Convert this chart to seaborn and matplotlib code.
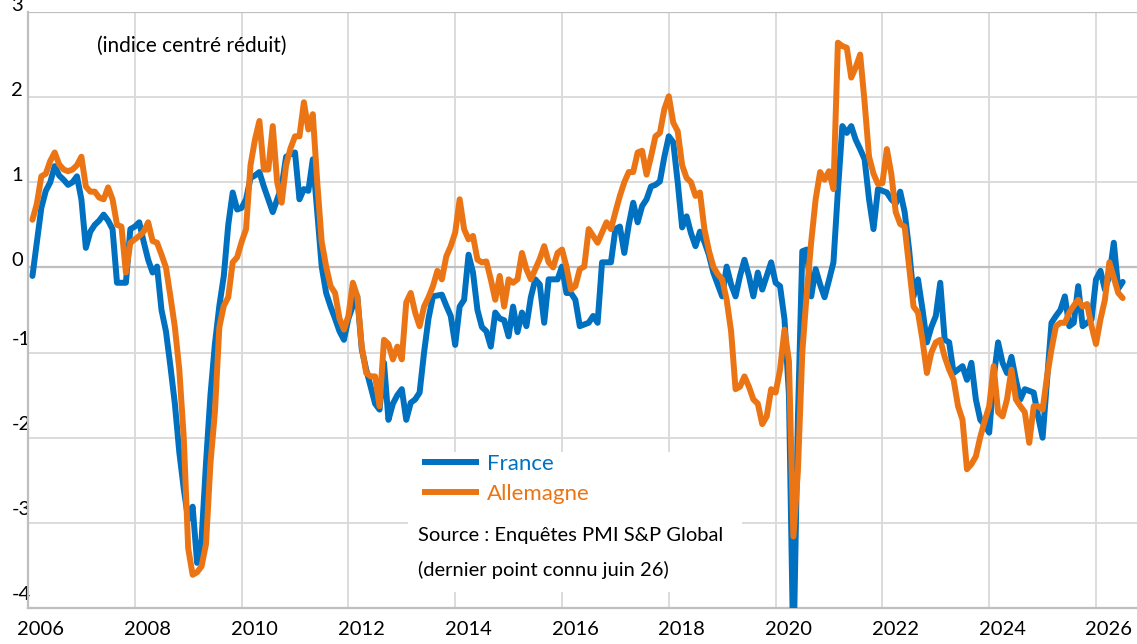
import numpy as np
import pandas as pd
import matplotlib
matplotlib.use("Agg")
import matplotlib.pyplot as plt
import matplotlib.transforms as mtransforms
from matplotlib.patches import Rectangle
import seaborn as sns

# ---------------- data (monthly, Jan 2006 -> Jun 2026) ----------------
start_month = "2006-01"
n_months = 246

france = [
    # 2006
    -0.10, 0.30, 0.70, 0.90, 1.00, 1.19, 1.08, 1.03, 0.97, 1.00, 1.07, 0.80,
    # 2007
    0.23, 0.42, 0.50, 0.55, 0.62, 0.55, 0.45, -0.18, -0.18, -0.18, 0.45, 0.48,
    # 2008
    0.53, 0.30, 0.09, -0.06, 0.01, -0.50, -0.75, -1.16, -1.60, -2.17, -2.60, -2.96,
    # 2009
    -2.81, -3.47, -3.20, -2.30, -1.50, -0.90, -0.45, -0.10, 0.50, 0.88, 0.68, 0.70,
    # 2010
    0.80, 1.05, 1.08, 1.12, 0.95, 0.80, 0.65, 0.80, 0.95, 1.30, 1.33, 1.35,
    # 2011
    0.80, 0.92, 0.90, 1.27, 0.65, 0.01, -0.30, -0.46, -0.60, -0.75, -0.85, -0.60,
    # 2012
    -0.45, -0.34, -0.96, -1.20, -1.40, -1.60, -1.67, -1.12, -1.79, -1.60, -1.50, -1.43,
    # 2013
    -1.79, -1.59, -1.55, -1.47, -1.00, -0.60, -0.34, -0.33, -0.32, -0.45, -0.57, -0.91,
    # 2014
    -0.46, -0.38, 0.15, -0.06, -0.50, -0.70, -0.75, -0.93, -0.53, -0.60, -0.62, -0.81,
    # 2015
    -0.46, -0.76, -0.53, -0.69, -0.35, -0.14, -0.20, -0.65, -0.14, -0.14, -0.14, 0.01,
    # 2016
    -0.30, -0.30, -0.38, -0.69, -0.67, -0.65, -0.57, -0.65, 0.06, 0.06, 0.06, 0.45,
    # 2017
    0.48, 0.17, 0.50, 0.76, 0.53, 0.72, 0.80, 0.95, 0.97, 1.01, 1.30, 1.54,
    # 2018
    1.47, 1.00, 0.47, 0.60, 0.40, 0.25, 0.42, 0.30, 0.15, -0.06, -0.20, -0.34,
    # 2019
    0.01, -0.20, -0.34, -0.10, 0.09, -0.10, -0.34, -0.06, -0.26, -0.10, 0.06, -0.18,
    # 2020
    -0.22, -0.61, -1.50, -4.60, -1.80, 0.19, 0.21, -0.34, -0.02, -0.20, -0.35, -0.15,
    # 2021
    0.06, 0.90, 1.66, 1.58, 1.66, 1.50, 1.39, 1.27, 0.80, 0.45, 0.92, 0.90,
    # 2022
    0.88, 0.80, 0.75, 0.89, 0.65, 0.21, -0.34, -0.14, -0.49, -0.88, -0.70, -0.57,
    # 2023
    -0.18, -0.85, -0.88, -1.24, -1.20, -1.16, -1.32, -1.12, -1.55, -1.79, -1.85, -1.94,
    # 2024
    -1.30, -0.88, -1.12, -1.24, -1.05, -1.32, -1.55, -1.43, -1.45, -1.47, -1.75, -2.00,
    # 2025
    -1.32, -0.65, -0.57, -0.50, -0.34, -0.69, -0.65, -0.22, -0.69, -0.65, -0.61, -0.14,
    # 2026
    -0.04, -0.26, -0.10, 0.29, -0.25, -0.17,
]

allemagne = [
    # 2006
    0.56, 0.75, 1.07, 1.10, 1.25, 1.35, 1.21, 1.15, 1.13, 1.15, 1.20, 1.30,
    # 2007
    0.95, 0.89, 0.89, 0.82, 0.80, 0.94, 0.80, 0.50, 0.48, -0.06, 0.29, 0.33,
    # 2008
    0.37, 0.42, 0.53, 0.31, 0.29, 0.15, 0.00, -0.34, -0.70, -1.20, -2.00, -3.30,
    # 2009
    -3.61, -3.58, -3.51, -3.25, -2.30, -1.70, -0.70, -0.45, -0.35, 0.06, 0.12, 0.30,
    # 2010
    0.45, 1.20, 1.50, 1.72, 1.15, 1.15, 1.66, 1.00, 0.76, 1.20, 1.40, 1.54,
    # 2011
    1.54, 1.94, 1.62, 1.80, 1.00, 0.30, 0.01, -0.22, -0.30, -0.60, -0.73, -0.57,
    # 2012
    -0.18, -0.34, -0.93, -1.24, -1.28, -1.28, -1.63, -0.85, -0.90, -1.08, -0.93, -1.08,
    # 2013
    -0.41, -0.30, -0.53, -0.69, -0.46, -0.35, -0.22, -0.04, -0.14, 0.13, 0.25, 0.41,
    # 2014
    0.80, 0.45, 0.33, 0.37, 0.09, 0.06, 0.07, -0.14, -0.38, -0.10, -0.46, -0.14,
    # 2015
    -0.18, -0.14, 0.17, -0.02, -0.14, -0.02, 0.10, 0.25, 0.06, 0.00, 0.17, 0.21,
    # 2016
    0.01, -0.26, -0.22, -0.02, 0.01, 0.45, 0.37, 0.29, 0.41, 0.53, 0.45, 0.65,
    # 2017
    0.84, 1.00, 1.12, 1.12, 1.35, 1.37, 1.09, 1.30, 1.54, 1.58, 1.86, 2.01,
    # 2018
    1.70, 1.60, 1.20, 1.05, 1.00, 0.84, 0.88, 0.45, 0.20, 0.01, -0.08, -0.14,
    # 2019
    -0.38, -0.75, -1.43, -1.40, -1.28, -1.40, -1.55, -1.60, -1.84, -1.75, -1.43, -1.47,
    # 2020
    -1.20, -0.73, -1.10, -3.16, -2.40, -1.00, -0.30, 0.30, 0.80, 1.12, 1.03, 1.13,
    # 2021
    0.92, 2.64, 2.60, 2.58, 2.23, 2.35, 2.50, 1.94, 1.30, 1.10, 0.98, 0.99,
    # 2022
    1.39, 1.10, 0.65, 0.51, 0.48, 0.01, -0.46, -0.53, -0.85, -1.24, -1.00, -0.88,
    # 2023
    -0.85, -1.05, -1.20, -1.32, -1.63, -1.79, -2.37, -2.31, -2.22, -1.99, -1.80, -1.63,
    # 2024
    -1.16, -1.70, -1.75, -1.55, -1.20, -1.55, -1.63, -1.70, -2.06, -1.63, -1.63, -1.67,
    # 2025
    -1.28, -0.96, -0.69, -0.65, -0.65, -0.53, -0.45, -0.38, -0.46, -0.43, -0.69, -0.90,
    # 2026
    -0.61, -0.38, 0.06, -0.12, -0.30, -0.36,
]

series_names = ["France", "Allemagne"]
series_colors = ["#0070C0", "#EB7514"]
year_ticks = [2006, 2008, 2010, 2012, 2014, 2016, 2018, 2020, 2022, 2024, 2026]
y_ticks = [-4, -3, -2, -1, 0, 1, 2, 3]
note_text = "(indice centré réduit)"
source_lines = ["Source : Enquêtes PMI S&P Global", "(dernier point connu juin 26)"]

# ---------------- build frame ----------------
dates = pd.date_range(start_month, periods=n_months, freq="MS")
# points are drawn at the end of each month
xpos = dates.year + (dates.month) / 12.0
df = pd.DataFrame({
    "x": np.concatenate([xpos, xpos]),
    "v": france + allemagne,
    "pays": ["France"] * n_months + ["Allemagne"] * n_months,
})

# ---------------- figure ----------------
sns.set_theme(style="white")
plt.rcParams["font.family"] = ["Lato", "DejaVu Sans"]

W, H = 1137, 644
fig = plt.figure(figsize=(W / 100, H / 100), dpi=100)
ax_l, ax_r, ax_t, ax_b = 28, 1137, 12, 608
ax = fig.add_axes([ax_l / W, 1 - ax_b / H, (ax_r - ax_l) / W, (ax_b - ax_t) / H])

for name, col in zip(series_names, series_colors):
    sns.lineplot(data=df[df["pays"] == name], x="x", y="v", color=col,
                 linewidth=4.3, ax=ax, label=name, legend=False,
                 solid_joinstyle="round", solid_capstyle="round", zorder=3)

ax.set_xlim(2006, 2006 + (ax_r - ax_l) / 53.4)
ax.set_ylim(-4, 3)
ax.set_xlabel("")
ax.set_ylabel("")

# grid
ax.set_xticks(year_ticks)
ax.set_xticklabels([str(y) for y in year_ticks])
ax.set_yticks(y_ticks)
ax.set_yticklabels([str(v) for v in y_ticks])
ax.grid(True, color="#d9d9d9", linewidth=1.3, zorder=0)
for val, gl in zip(y_ticks, ax.get_ygridlines()):
    if val in (0, 3):
        gl.set_color("#bfbfbf")
        gl.set_linewidth(1.6)

for s in ["top", "right"]:
    ax.spines[s].set_visible(False)
for s in ["left", "bottom"]:
    ax.spines[s].set_color("#bfbfbf")
    ax.spines[s].set_linewidth(1.6)

ax.tick_params(axis="x", direction="out", length=8, width=1.3, color="#bfbfbf",
               pad=1.5, labelsize=14.5, labelcolor="black")
ax.tick_params(axis="y", length=0, pad=12, labelsize=14.5, labelcolor="black")

dx = mtransforms.ScaledTranslation(13 / 100, 0, fig.dpi_scale_trans)
for lab in ax.get_xticklabels():
    lab.set_transform(lab.get_transform() + dx)
for val, lab in zip(y_ticks, ax.get_yticklabels()):
    lab.set_horizontalalignment("left")
    dy = 8 if val >= 0 else 15
    lab.set_transform(lab.get_transform() + mtransforms.ScaledTranslation(0, dy / 100, fig.dpi_scale_trans))

# white box behind legend & source
def ax_frac(px, py):
    return (px - ax_l) / (ax_r - ax_l), (ax_b - py) / (ax_b - ax_t)

bx0, by0 = ax_frac(408, 592)
bx1, by1 = ax_frac(742, 452)
ax.add_patch(Rectangle((bx0, by0), bx1 - bx0, by1 - by0, transform=ax.transAxes,
                       facecolor="white", edgecolor="none", zorder=1.5))

# annotation
nx, ny = ax_frac(97, 46)
ax.text(nx, ny, note_text, transform=ax.transAxes, ha="left", va="center",
        fontsize=15, color="black", zorder=4)

for line, ypx in zip(source_lines, [535, 570]):
    sx, sy = ax_frac(418, ypx)
    ax.text(sx, sy, line, transform=ax.transAxes, ha="left", va="center",
            fontsize=14.5, color="black", zorder=4)

# legend
handles = ax.get_lines()[:2]
leg = ax.legend(handles, series_names, loc="upper left",
                bbox_to_anchor=(422 / W, 1 - 454 / H), bbox_transform=fig.transFigure,
                frameon=False, fontsize=16, handlelength=2.55, handletextpad=0.36,
                labelspacing=0.45, borderpad=0, borderaxespad=0)
for txt, col in zip(leg.get_texts(), series_colors):
    txt.set_color(col)
for lh in leg.legend_handles:
    lh.set_linewidth(4.3)
    lh.set_solid_capstyle("butt")

fig.savefig("out.png", dpi=100)
